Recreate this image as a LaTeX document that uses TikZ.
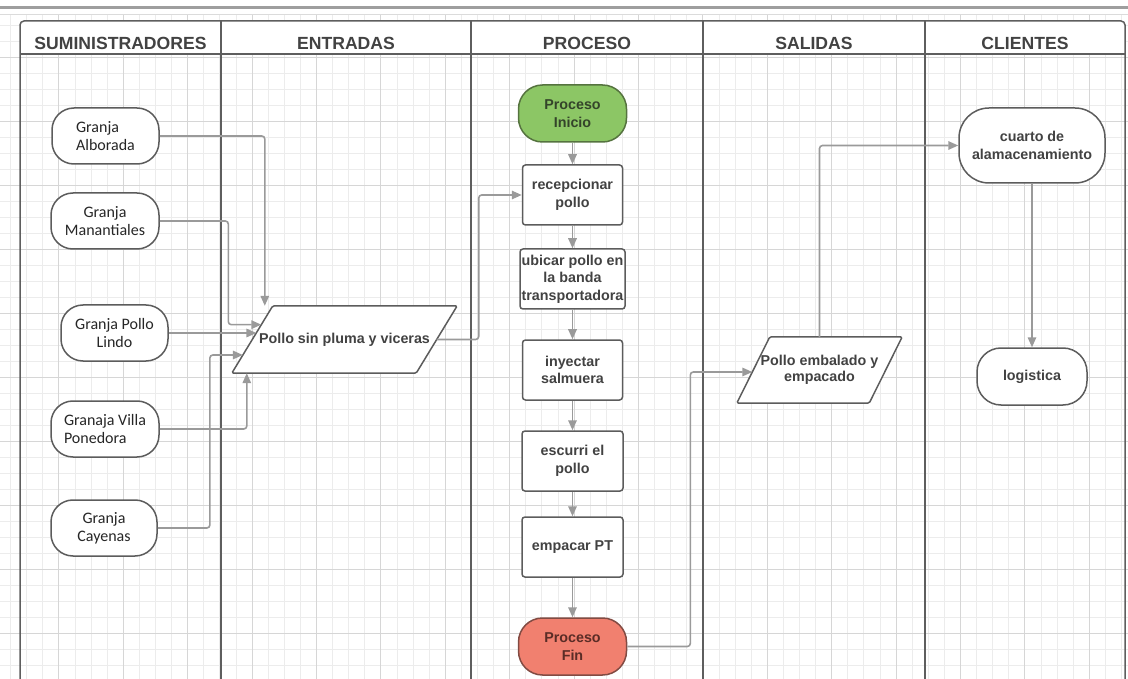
\documentclass[tikz,border=0pt]{standalone}
\usepackage{fontspec}
\setmainfont{Liberation Sans}
\newfontfamily\calibri{Carlito}
\usetikzlibrary{arrows.meta,calc}

\definecolor{gridmajor}{HTML}{D6D6D6}
\definecolor{gridminor}{HTML}{ECECEC}
\definecolor{lanecol}{HTML}{5E5E5E}
\definecolor{edgecol}{HTML}{9A9A9A}
\definecolor{boxline}{HTML}{5C5C5C}
\definecolor{txt}{HTML}{424242}
\definecolor{startfill}{HTML}{8CC665}
\definecolor{startline}{HTML}{55733F}
\definecolor{starttxt}{HTML}{34442A}
\definecolor{endfill}{HTML}{F1806F}
\definecolor{endline}{HTML}{824B43}
\definecolor{endtxt}{HTML}{5A2C26}

\pgfdeclarelayer{backdrop}
\pgfdeclarelayer{shapes}
\pgfsetlayers{backdrop,shapes,main}

\tikzset{
  lane/.style={draw=lanecol, line width=1.5pt},
  hdr/.style={font=\bfseries\fontsize{17.6}{20}\selectfont, text=txt, inner sep=0pt},
  farm/.style={draw=boxline, line width=1.5pt, fill=white, rounded corners=22pt,
    minimum height=56pt, inner sep=0pt, align=center,
    font=\calibri\fontsize{16}{18}\selectfont, text=black!85},
  stepbox/.style={draw=boxline, line width=1.5pt, fill=white, rounded corners=3pt,
    minimum height=60pt, minimum width=101pt, inner sep=0pt, align=center,
    font=\bfseries\fontsize{14.3}{17.5}\selectfont, text=txt},
  term/.style={draw=boxline, line width=1.5pt, rounded corners=24pt,
    minimum height=57pt, minimum width=108pt, inner sep=0pt, align=center,
    font=\bfseries\fontsize{14.3}{18}\selectfont, text=txt},
  datain/.style={inner sep=0pt, align=center,
    font=\bfseries\fontsize{14.3}{16.5}\selectfont, text=txt},
  slanted/.style={draw=boxline, line width=1.5pt, fill=white, rounded corners=1.5pt},
  flow/.style={draw=edgecol, line width=1.6pt, rounded corners=3pt,
    -{Triangle[length=10pt,width=8.5pt]}},
}

\begin{document}
\begin{tikzpicture}[x=1pt,y=-1pt]
\useasboundingbox (0,0) rectangle (1128,679);

\begin{pgfonlayer}{backdrop}
% background grid
\begin{scope}
  \clip (0,15) rectangle (1128,679);
  \foreach \i in {-15,...,54}
    \draw[gridminor, line width=0.7pt] ({252+16.1*\i},15) -- ++(0,670);
  \foreach \j in {-26,...,15}
    \draw[gridminor, line width=0.7pt] (0,{441+16*\j}) -- ++(1128,0);
  \foreach \i in {-3,...,13}
    \draw[gridmajor, line width=0.9pt] ({252+64.4*\i},15) -- ++(0,670);
  \foreach \j in {-6,...,3}
    \draw[gridmajor, line width=0.9pt] (0,{441+64*\j}) -- ++(1128,0);
\end{scope}

% ruler strip along the top
\draw[black!38, line width=3pt] (0,8) -- (1128,8);
\draw[black!14, line width=0.8pt] (0,14.5) -- (1128,14.5);

% swimlane frame and header row
\fill[white] (20,54) [rounded corners=4pt] -- (20,21) -- (1125,21) [sharp corners] -- (1125,54) -- cycle;
\draw[lane] (20,685) [rounded corners=4pt] -- (20,21) -- (1125,21) [sharp corners] -- (1125,685);
\draw[lane] (20,54) -- (1125,54);
\foreach \x in {221,471,703,925}
  \draw[lane] (\x,21) -- (\x,685);
\end{pgfonlayer}

\node[hdr] (h1) at (120.5,43) {SUMINISTRADORES};
\node[hdr] (h2) at (346,43) {ENTRADAS};
\node[hdr] (h3) at (587,43) {PROCESO};
\node[hdr] (h4) at (814,43) {SALIDAS};
\node[hdr] (h5) at (1025,43) {CLIENTES};

% suppliers
\node[farm, minimum width=107pt, align=left] (alb) at (105.5,136) {Granja\\Alborada};
\node[farm, minimum width=108pt] (man) at (105,221) {Granja\\Manantiales};
\node[farm, minimum width=107pt] (pol) at (114.5,333) {Granja Pollo\\Lindo};
\node[farm, minimum width=108pt, align=left] (vil) at (105,429) {Granaja Villa\\Ponedora};
\node[farm, minimum width=106pt] (cay) at (104,528) {Granja\\Cayenas};

% input data (parallelogram drawn behind its text node)
\node[datain, minimum width=225pt, minimum height=67pt] (pA) at (344.5,339.5)
      {Pollo sin pluma y viceras};
\coordinate (pAtl) at ([xshift=41pt]pA.north west);
\coordinate (pAbr) at ([xshift=-41pt]pA.south east);
\begin{pgfonlayer}{shapes}
  \draw[slanted] (pAtl) -- (pA.north east) -- (pAbr) -- (pA.south west) -- cycle;
\end{pgfonlayer}
\coordinate (pAl1) at ($(pAtl)!0.28!(pA.south west)$);
\coordinate (pAl2) at ($(pAtl)!0.40!(pA.south west)$);
\coordinate (pAl3) at ($(pAtl)!0.73!(pA.south west)$);
\coordinate (pAr) at ($(pA.north east)!0.5!(pAbr)$);

% process steps
\node[term, fill=startfill, draw=startline, text=starttxt] (ini) at (572.5,113.5) {Proceso\\Inicio};
\node[stepbox, minimum width=100pt] (rec) at (572.5,195) {recepcionar\\pollo};
\node[stepbox, minimum width=105pt] (ubi) at (572.5,279) {ubicar pollo en\\la banda\\transportadora};
\node[stepbox, minimum width=100pt] (iny) at (572.5,370) {inyectar\\salmuera};
\node[stepbox] (esc) at (572.5,461) {escurri el\\pollo};
\node[stepbox] (emp) at (572.5,547) {empacar PT};
\node[term, fill=endfill, draw=endline, text=endtxt] (fin) at (572.5,646.5) {Proceso\\Fin};

% output data
\node[datain, minimum width=165pt, minimum height=66pt] (pB) at (819.5,370)
      {Pollo embalado y\\empacado};
\coordinate (pBtl) at ([xshift=33pt]pB.north west);
\coordinate (pBbr) at ([xshift=-33pt]pB.south east);
\begin{pgfonlayer}{shapes}
  \draw[slanted] (pBtl) -- (pB.north east) -- (pBbr) -- (pB.south west) -- cycle;
\end{pgfonlayer}
\coordinate (pBl) at ($(pBtl)!0.53!(pB.south west)$);

% customers
\node[term, fill=white, minimum width=146pt, minimum height=75pt, rounded corners=30pt,
      font=\bfseries\fontsize{14.3}{17.3}\selectfont] (cua) at (1032,145.5) {cuarto de\\alamacenamiento};
\node[term, fill=white, minimum width=110pt] (log) at (1032,376.5) {logistica};

% supplier flows into the input
\draw[flow] (alb.east) -| ([xshift=-8pt]pAtl);
\draw[flow] (man.east) -| ([xshift=-33pt]pAl1) -- (pAl1);
\draw[flow] (pol.east) -- (pol.east -| pAl2);
\draw[flow] (vil.east) -| ([xshift=15pt]pA.south west);
\draw[flow] (cay.east) -| ([xshift=-33pt]pAl3) -- (pAl3);

% input into process
\draw[flow] (pAr) -- ++(42,0) |- (rec.west);

% process chain
\draw[flow] (ini) -- (rec);
\draw[flow] (rec) -- (ubi);
\draw[flow] (ubi) -- (iny);
\draw[flow] (iny) -- (esc);
\draw[flow] (esc) -- (emp);
\draw[flow] (emp) -- (fin);

% process to output and customers
\draw[flow] (fin.east) -| ([xshift=-62pt]pBl) -- (pBl);
\draw[flow] (pB.north) |- (cua.west);
\draw[flow] (cua) -- (log);
\end{tikzpicture}
\end{document}
